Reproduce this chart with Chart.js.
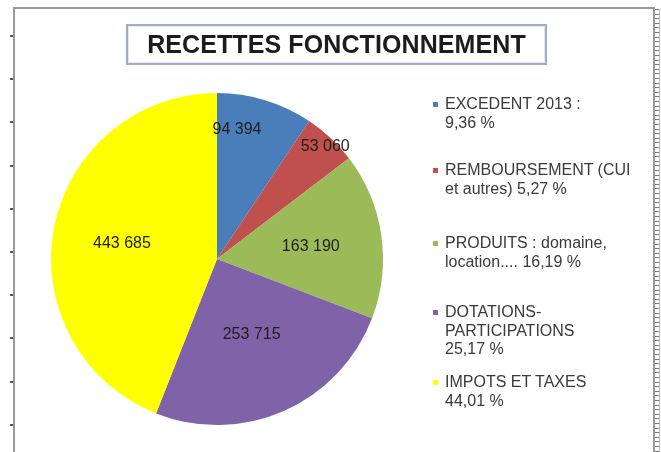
<!DOCTYPE html>
<html>
<head>
<meta charset="utf-8">
<script src="https://cdn.jsdelivr.net/npm/chart.js@4.4.0/dist/chart.umd.min.js"></script>
<style>
  html, body { margin: 0; padding: 0; background: #ffffff; }
  #wrap { position: relative; width: 661px; height: 452px; overflow: hidden; background: #fff; font-family: "Liberation Sans", Arial, sans-serif; }
  #c { position: absolute; left: 0; top: 0; }
  .frameTop { position: absolute; left: 14px; top: 7px; width: 641px; height: 2px; background: #9a9a9a; }
  .frameLeft { position: absolute; left: 13px; top: 7px; width: 2px; height: 460px; background: #9a9a9a; }
  .frameRight { position: absolute; left: 653px; top: 7px; width: 2px; height: 460px; background: #9a9a9a; }
  .ruler { position: absolute; left: 655px; top: 9px; width: 4px; height: 460px;
           background: repeating-linear-gradient(to bottom, #777 0px, #777 1px, transparent 1px, transparent 4.6px); }
  .rulerLine { position: absolute; left: 659px; top: 9px; width: 1px; height: 460px; background: #bbb; }
  .tick { position: absolute; left: 10px; width: 3px; height: 2px; background: #555; }
  #title { position: absolute; left: 126px; top: 24px; width: 417px; height: 37px;
           border: 2px solid #a4acc4; box-shadow: inset 0 0 0 1px #e4e7f0;
           text-align: center; line-height: 37px; font-weight: bold; font-size: 25px; color: #1c1c1c; letter-spacing: 0.1px; }
  .lg { position: absolute; left: 433px; font-size: 16px; line-height: 18.5px; color: #3a3a3a; white-space: nowrap; }
  .lg .mk { position: absolute; left: 0; top: 7px; width: 5px; height: 5px; }
  .lg .tx { position: absolute; left: 12px; top: 0; }
</style>
</head>
<body>
<div id="wrap">
  <canvas id="c" width="661" height="452"></canvas>
  <div class="frameTop"></div>
  <div class="frameLeft"></div>
  <div class="frameRight"></div>
  <div class="ruler"></div>
  <div class="rulerLine"></div>
  <div id="title"></div>
  <div id="legend"></div>
</div>
<script>
// ---- DATA ----
const chartTitle = "RECETTES FONCTIONNEMENT";
const categories = ["EXCEDENT 2013", "REMBOURSEMENT (CUI et autres)", "PRODUITS : domaine, location....", "DOTATIONS-PARTICIPATIONS", "IMPOTS ET TAXES"];
const values = [94394, 53060, 163190, 253715, 443685];
const percentLabels = ["9,36 %", "5,27 %", "16,19 %", "25,17 %", "44,01 %"];
const legendLines = [
  ["EXCEDENT 2013 :", "9,36 %"],
  ["REMBOURSEMENT (CUI", "et autres) 5,27 %"],
  ["PRODUITS : domaine,", "location.... 16,19 %"],
  ["DOTATIONS-", "PARTICIPATIONS", "25,17 %"],
  ["IMPOTS ET TAXES", "44,01 %"]
];

// ---- STYLE / LAYOUT ----
const colors = ["#4A7EBB", "#C0504D", "#9BBB59", "#7F62A8", "#FFFF00"];
const legendTops = [95, 161, 234, 303, 373];
const labelAngleFrac = [0.26, 0.54, 0.51, 0.49, 0.49];
const labelRadiusFrac = [0.79, 0.94, 0.57, 0.50, 0.58];

document.getElementById('title').textContent = chartTitle;

// ruler ticks on left
const wrap = document.getElementById('wrap');
for (let y = 35; y < 452; y += 43.2) {
  const t = document.createElement('div');
  t.className = 'tick';
  t.style.top = Math.round(y) + 'px';
  wrap.appendChild(t);
}

// legend
const lg = document.getElementById('legend');
legendLines.forEach((lines, i) => {
  const d = document.createElement('div');
  d.className = 'lg';
  d.style.top = legendTops[i] + 'px';
  const mk = document.createElement('div');
  mk.className = 'mk';
  mk.style.background = colors[i];
  d.appendChild(mk);
  const tx = document.createElement('div');
  tx.className = 'tx';
  tx.innerHTML = lines.map(s => s.replace(/&/g, '&amp;').replace(/</g, '&lt;')).join('<br>');
  d.appendChild(tx);
  lg.appendChild(d);
});

function fmt(v) {
  return String(v).replace(/\B(?=(\d{3})+(?!\d))/g, ' ');
}

const valueLabels = {
  id: 'valueLabels',
  afterDatasetsDraw(chart) {
    const ctx = chart.ctx;
    const meta = chart.getDatasetMeta(0);
    ctx.save();
    ctx.font = '16px "Liberation Sans", Arial, sans-serif';
    ctx.fillStyle = '#1e1e1e';
    ctx.textAlign = 'center';
    ctx.textBaseline = 'middle';
    meta.data.forEach((arc, i) => {
      const p = arc.getProps(['x', 'y', 'startAngle', 'endAngle', 'outerRadius'], true);
      const a = p.startAngle + (p.endAngle - p.startAngle) * labelAngleFrac[i];
      const r = p.outerRadius * labelRadiusFrac[i];
      const x = p.x + Math.cos(a) * r;
      const y = p.y + Math.sin(a) * r;
      ctx.fillText(fmt(chart.data.datasets[0].data[i]), x, y);
    });
    ctx.restore();
  }
};

new Chart(document.getElementById('c'), {
  type: 'pie',
  data: {
    labels: categories,
    datasets: [{
      data: values,
      backgroundColor: colors,
      borderWidth: 0
    }]
  },
  options: {
    responsive: false,
    animation: false,
    layout: { padding: { left: 51, top: 93, right: 278, bottom: 27 } },
    plugins: {
      legend: { display: false },
      title: { display: false },
      tooltip: { enabled: false }
    }
  },
  plugins: [valueLabels]
});
</script>
</body>
</html>
